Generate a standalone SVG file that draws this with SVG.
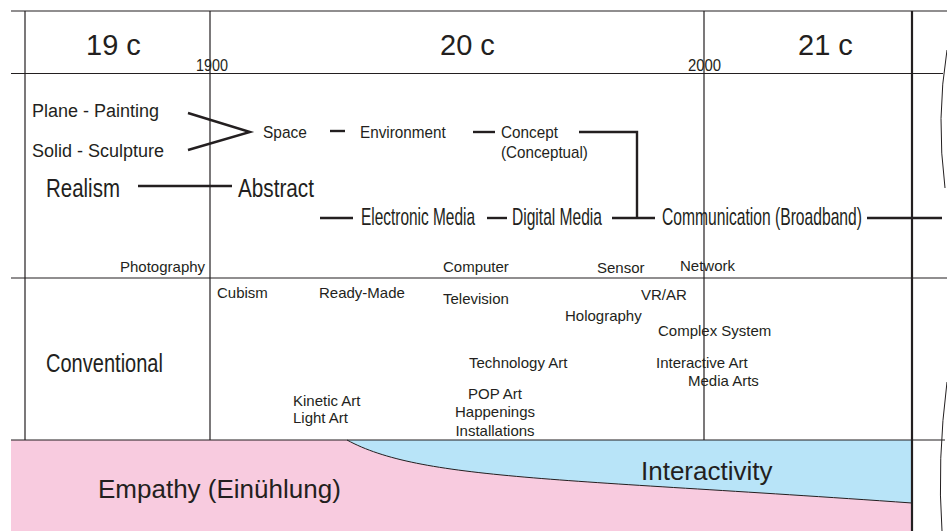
<svg xmlns="http://www.w3.org/2000/svg" width="947" height="531" viewBox="0 0 947 531">
  <style>
    text { font-family: "Liberation Sans", Arial, Helvetica, sans-serif; fill: #231f20; }
    .grid { stroke: #231f20; stroke-width: 1.2; fill: none; }
    .frame { stroke: #231f20; stroke-width: 2.2; fill: none; }
    .thin { stroke: #231f20; stroke-width: 1; fill: none; }
    .conn { stroke: #231f20; stroke-width: 2.4; fill: none; }
    .era { font-size: 29px; }
    .year { font-size: 16px; }
    .sm { font-size: 15px; }
    .md { font-size: 18px; }
    .c17 { font-size: 17px; }
    .c24 { font-size: 24px; }
    .c26 { font-size: 26px; }
    .lg { font-size: 26px; }
  </style>

  <rect x="0" y="0" width="947" height="531" fill="#ffffff"/>

  <!-- bottom bands: empathy vs interactivity -->
  <g id="bands">
    <rect x="11" y="440" width="901" height="91" fill="#f8cbdf"/>
    <path d="M347,440 L912,440 L912,503 C560,478 420,480 347,440 Z" fill="#b8e4f8"/>
    <path class="thin" d="M347,440 C420,480 560,478 912,503"/>
  </g>

  <!-- timeline grid -->
  <g id="grid">
    <line class="grid" x1="11" y1="11" x2="947" y2="11"/>
    <line class="grid" x1="11" y1="73.5" x2="943" y2="73.5"/>
    <line class="grid" x1="11" y1="278" x2="947" y2="278"/>
    <line class="grid" x1="11" y1="440" x2="945" y2="440"/>
    <line class="grid" x1="25" y1="11" x2="25" y2="440"/>
    <line class="grid" x1="210" y1="11" x2="210" y2="440"/>
    <line class="grid" x1="704" y1="11" x2="704" y2="440"/>
    <line class="frame" x1="912" y1="11" x2="912" y2="531"/>
    <path class="thin" d="M947,50 Q936,118 945,188"/>
    <path class="thin" d="M947,382 Q937,460 942,531"/>
  </g>

  <!-- century headers -->
  <g id="c19"><text class="era" x="86" y="55">19 c</text></g>
  <g id="c20"><text class="era" x="440" y="55">20 c</text></g>
  <g id="c21"><text class="era" x="798" y="55">21 c</text></g>
  <g id="y1900"><text class="year" transform="translate(196,71) scale(0.9,1)">1900</text></g>
  <g id="y2000"><text class="year" transform="translate(688,71) scale(0.93,1)">2000</text></g>

  <!-- connectors -->
  <g id="connectors">
    <path class="conn" d="M188,113 L250,132 L188,150"/>
    <line class="conn" x1="330" y1="131" x2="345" y2="131"/>
    <line class="conn" x1="473" y1="132" x2="495" y2="132"/>
    <path class="conn" d="M579,132 L637,132 L637,218"/>
    <line class="conn" x1="138" y1="186" x2="232" y2="186"/>
    <line class="conn" x1="320" y1="218" x2="353" y2="218"/>
    <line class="conn" x1="487" y1="218" x2="507" y2="218"/>
    <line class="conn" x1="612" y1="218" x2="655" y2="218"/>
    <line class="conn" x1="867" y1="218" x2="942" y2="218"/>
  </g>

  <!-- art-form lineage -->
  <g id="plane"><text class="md" x="32" y="117">Plane - Painting</text></g>
  <g id="solid"><text class="md" x="32" y="157">Solid - Sculpture</text></g>
  <g id="space"><text class="c17" transform="translate(263,138) scale(0.91,1)">Space</text></g>
  <g id="environment"><text class="c17" transform="translate(360,138) scale(0.9,1)">Environment</text></g>
  <g id="concept">
    <text class="c17" transform="translate(501,138) scale(0.9,1)">Concept</text>
    <text class="c17" transform="translate(501,158) scale(0.894,1)">(Conceptual)</text>
  </g>
  <g id="realism"><text class="c26" transform="translate(46,197) scale(0.788,1)">Realism</text></g>
  <g id="abstract"><text class="c26" transform="translate(238,197) scale(0.797,1)">Abstract</text></g>
  <g id="electronic"><text class="c24" transform="translate(361,225) scale(0.643,1)">Electronic Media</text></g>
  <g id="digital"><text class="c24" transform="translate(512,225) scale(0.649,1)">Digital Media</text></g>
  <g id="communication"><text class="c24" transform="translate(662,225) scale(0.652,1)">Communication (Broadband)</text></g>

  <!-- technologies -->
  <g id="photography"><text class="sm" x="120" y="272">Photography</text></g>
  <g id="computer"><text class="sm" x="443" y="272">Computer</text></g>
  <g id="sensor"><text class="sm" x="597" y="273">Sensor</text></g>
  <g id="network"><text class="sm" x="680" y="271">Network</text></g>

  <!-- movements -->
  <g id="conventional"><text class="c26" transform="translate(46,372) scale(0.771,1)">Conventional</text></g>
  <g id="cubism"><text class="sm" x="217" y="298">Cubism</text></g>
  <g id="readymade"><text class="sm" x="319" y="298">Ready-Made</text></g>
  <g id="television"><text class="sm" x="443" y="304">Television</text></g>
  <g id="vrar"><text class="sm" x="641" y="300">VR/AR</text></g>
  <g id="holography"><text class="sm" x="565" y="321">Holography</text></g>
  <g id="complex"><text class="sm" x="658" y="336">Complex System</text></g>
  <g id="techart"><text class="sm" x="469" y="368">Technology Art</text></g>
  <g id="interactiveart"><text class="sm" x="656" y="368">Interactive Art</text></g>
  <g id="mediaarts"><text class="sm" x="688" y="386">Media Arts</text></g>
  <g id="kinetic">
    <text class="sm" x="293" y="406">Kinetic Art</text>
    <text class="sm" x="293" y="423">Light Art</text>
  </g>
  <g id="pop" text-anchor="middle">
    <text class="sm" x="495" y="399">POP Art</text>
    <text class="sm" x="495" y="417">Happenings</text>
    <text class="sm" x="495" y="436">Installations</text>
  </g>

  <!-- band labels -->
  <g id="interactivity"><text class="lg" x="641" y="480">Interactivity</text></g>
  <g id="empathy"><text class="lg" x="98" y="498">Empathy (Einühlung)</text></g>
</svg>
